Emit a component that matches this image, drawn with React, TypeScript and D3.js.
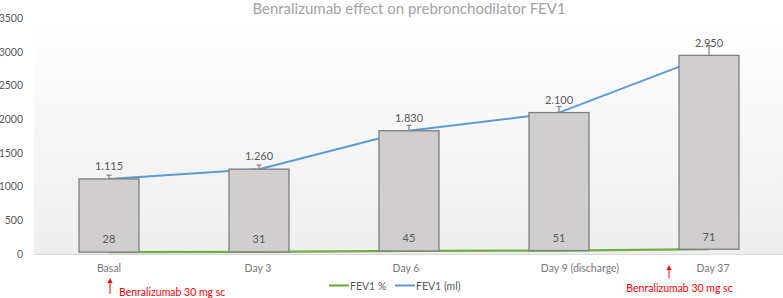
import React from "react";
import * as d3 from "d3";

const categories = ["Basal", "Day 3", "Day 6", "Day 9 (discharge)", "Day 37"];
const fev1Ml = [1115, 1260, 1830, 2100, 2950];
const fev1Pct = [28, 31, 45, 51, 71];
const fev1MlError = [55, 60, 80, 90, 145];
const yTicks = [0, 500, 1000, 1500, 2000, 2500, 3000, 3500];
const annotationCategories = ["Basal", "Day 37"];
const annotationText = "Benralizumab 30 mg sc";
const title = "Benralizumab effect on prebronchodilator FEV1";
const legendLabels = ["FEV1 %", "FEV1 (ml)"];

const W = 783;
const H = 298;
const FONT = "Lato, 'Open Sans', sans-serif";
const plotLeft = 34;
const plotRight = 784;
const plotTop = 18.3;
const plotBottom = 254;
const labelDx = [0, -1, -3, 21, 4];

const GREEN = "#70ad47";
const BLUE = "#5b9bd5";
const TEXT = "#595959";

const euro = d3.formatLocale({ decimal: ",", thousands: ".", grouping: [3], currency: ["", "€"] });
const fmt = euro.format(",.0f");

export default function App() {
  const x = d3.scalePoint<string>().domain(categories).range([plotLeft, plotRight]).padding(0.5);
  const y = d3.scaleLinear().domain([0, 3500]).range([plotBottom, plotTop]);
  const barW = x.step() * 0.4;

  const lineGen = d3
    .line<number>()
    .x((_, i) => x(categories[i]) as number)
    .y((d) => y(d));

  return (
    <svg width={W} height={H} style={{ position: "fixed", left: 0, top: 0, background: "#fff" }}>
      <defs>
        <linearGradient id="bg" x1="0" y1="0" x2="0" y2="1">
          <stop offset="0" stopColor="#ffffff" />
          <stop offset="1" stopColor="#eeeeee" />
        </linearGradient>
      </defs>
      <rect x={plotLeft} y={plotTop} width={plotRight - plotLeft} height={plotBottom - plotTop} fill="url(#bg)" />
      <line x1={plotLeft} x2={plotRight} y1={plotBottom + 0.5} y2={plotBottom + 0.5} stroke="#d9d9d9" strokeWidth={1} />

      <text x={409} y={13.5} textAnchor="middle" fontFamily={FONT} fontSize={15} fill="#a3a3a3">
        {title}
      </text>

      {yTicks.map((t) => (
        <text key={t} x={23} y={y(t)} dy="0.35em" textAnchor="end" fontFamily={FONT} fontSize={10.5} fill={TEXT}>
          {t}
        </text>
      ))}

      {categories.map((c, i) => (
        <text key={c} x={(x(c) as number) + labelDx[i]} y={268} dy="0.35em" textAnchor="middle" fontFamily={FONT} fontSize={10.5} fill="#7a7a7a">
          {c}
        </text>
      ))}

      <path d={lineGen(fev1Pct) || ""} fill="none" stroke={GREEN} strokeWidth={2.2} />
      <path d={lineGen(fev1Ml) || ""} fill="none" stroke={BLUE} strokeWidth={2} />

      {categories.map((c, i) => {
        const cx = x(c) as number;
        const top = y(fev1Ml[i]);
        const cap = y(fev1Ml[i] + fev1MlError[i]);
        return (
          <g key={c}>
            <line x1={cx} x2={cx} y1={top} y2={cap} stroke="#7f7f7f" strokeWidth={1.2} />
            <line x1={cx - 2.5} x2={cx + 2.5} y1={cap} y2={cap} stroke="#7f7f7f" strokeWidth={1.2} />
            <rect
              x={cx - barW / 2}
              y={top}
              width={barW}
              height={y(fev1Pct[i]) - top}
              fill="#d0cece"
              stroke="#7f7f7f"
              strokeWidth={1.3}
            />
            <text x={cx} y={top - 12.5} dy="0.35em" textAnchor="middle" fontFamily={FONT} fontSize={11} fill={TEXT}>
              {fmt(fev1Ml[i])}
            </text>
            <text x={cx} y={y(fev1Pct[i]) - 12.5} dy="0.35em" textAnchor="middle" fontFamily={FONT} fontSize={11} fill={TEXT}>
              {fev1Pct[i]}
            </text>
          </g>
        );
      })}

      {/* legend */}
      <line x1={329} x2={349} y1={285.5} y2={285.5} stroke={GREEN} strokeWidth={2.2} />
      <text x={350} y={286} dy="0.35em" fontFamily={FONT} fontSize={10.5} fill={TEXT}>
        {legendLabels[0]}
      </text>
      <line x1={395} x2={415} y1={285.5} y2={285.5} stroke={BLUE} strokeWidth={2} />
      <text x={416} y={286} dy="0.35em" fontFamily={FONT} fontSize={10.5} fill={TEXT}>
        {legendLabels[1]}
      </text>

      {/* annotations */}
      {annotationCategories.map((c, i) => {
        const cx = (x(c) as number) + (i === 0 ? 1 : -40);
        const tipY = i === 0 ? 278 : 265;
        const tailY = i === 0 ? 294 : 278;
        const tx = i === 0 ? cx + 9 : cx + 10.5;
        const ty = i === 0 ? 292.5 : 288;
        return (
          <g key={c}>
            <line x1={cx} x2={cx} y1={tipY + 3} y2={tailY} stroke="#ff0000" strokeWidth={1} />
            <path d={`M${cx},${tipY} L${cx - 2.5},${tipY + 5} L${cx + 2.5},${tipY + 5} Z`} fill="#ff0000" />
            <text x={tx} y={ty} dy="0.35em" textAnchor={i === 0 ? "start" : "middle"} fontFamily={FONT} fontSize={10.5} fill="#ff0000">
              {annotationText}
            </text>
          </g>
        );
      })}
    </svg>
  );
}
